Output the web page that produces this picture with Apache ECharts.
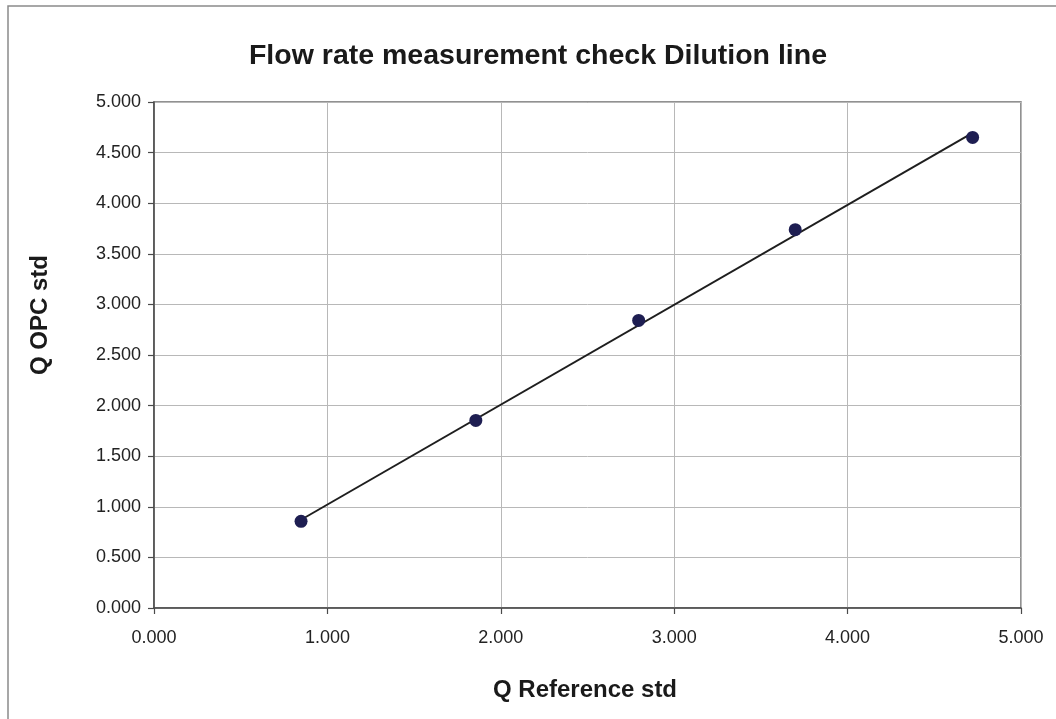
<!DOCTYPE html>
<html>
<head>
<meta charset="utf-8">
<script src="https://cdn.jsdelivr.net/npm/echarts@6/dist/echarts.min.js"></script>
<style>
  html, body { margin: 0; padding: 0; background: #ffffff; }
  #chart { width: 1056px; height: 719px; }
</style>
</head>
<body>
<div id="chart"></div>
<script>
// Measured flow rates: reference standard (x) vs OPC (y)
const qReference = [0.848, 1.856, 2.795, 3.698, 4.721];
const qOpc       = [0.856, 1.854, 2.842, 3.738, 4.650];

// Linear trendline end points
const trendX = [0.848, 4.721];
const trendY = [0.872, 4.695];

// Axis ranges and tick steps
const xRange = [0, 5];
const yRange = [0, 5];
const xStep = 1;
const yStep = 0.5;

const chartTitle = 'Flow rate measurement check Dilution line';
const xTitle = 'Q Reference std';
const yTitle = 'Q OPC std';

const points = qReference.map((x, i) => [x, qOpc[i]]);
const trend = trendX.map((x, i) => [x, trendY[i]]);

const font = 'Arial, "Liberation Sans", Helvetica, sans-serif';
const chart = echarts.init(document.getElementById('chart'), null, { renderer: 'canvas' });

chart.setOption({
  backgroundColor: '#ffffff',
  animation: false,
  title: {
    text: chartTitle,
    left: 533,
    textAlign: 'center',
    top: 37,
    textStyle: { fontFamily: font, fontSize: 28.5, fontWeight: 'bold', color: '#1a1a1a' }
  },
  grid: { left: 154, right: 35, top: 102, bottom: 111, containLabel: false,
          show: true, borderColor: '#6e6e6e', borderWidth: 1.5 },
  xAxis: {
    type: 'value',
    min: xRange[0], max: xRange[1], interval: xStep,
    axisLine: { show: true, onZero: false, lineStyle: { color: '#4a4a4a', width: 1.5 } },
    axisTick: { show: true, length: 6, lineStyle: { color: '#4a4a4a', width: 1.2 } },
    axisLabel: { margin: 21, fontFamily: font, fontSize: 18, color: '#222222',
                 formatter: v => v.toFixed(3) },
    splitLine: { show: true, lineStyle: { color: '#b8b8b8', width: 1 } }
  },
  yAxis: {
    type: 'value',
    min: yRange[0], max: yRange[1], interval: yStep,
    axisLine: { show: true, onZero: false, lineStyle: { color: '#4a4a4a', width: 1.5 } },
    axisTick: { show: true, length: 6, lineStyle: { color: '#4a4a4a', width: 1.2 } },
    axisLabel: { margin: 13, fontFamily: font, fontSize: 18, color: '#222222',
                 formatter: v => v.toFixed(3) },
    splitLine: { show: true, lineStyle: { color: '#b8b8b8', width: 1 } }
  },
  series: [
    {
      name: 'trend',
      type: 'line',
      data: trend,
      symbol: 'none',
      lineStyle: { color: '#1e1e1e', width: 2 },
      z: 2
    },
    {
      name: 'Q OPC std',
      type: 'scatter',
      data: points,
      symbol: 'circle',
      symbolSize: 13,
      itemStyle: { color: '#1e1e52', opacity: 1 },
      z: 3
    }
  ],
  graphic: [
    {
      type: 'rect',
      shape: { x: 8, y: 6, width: 1100, height: 800 },
      style: { fill: 'none', stroke: '#8a8a8a', lineWidth: 1.5 },
      silent: true, z: -1
    },
    {
      type: 'text',
      x: 585, y: 690,
      style: { text: xTitle, fontFamily: font, fontSize: 24, fontWeight: 'bold', fill: '#1a1a1a',
               x: 0, y: 0, textAlign: 'center', textVerticalAlign: 'middle' }
    },
    {
      type: 'text',
      x: 40, y: 315, rotation: Math.PI / 2,
      style: { text: yTitle, fontFamily: font, fontSize: 24, fontWeight: 'bold', fill: '#1a1a1a',
               x: 0, y: 0, textAlign: 'center', textVerticalAlign: 'middle' }
    }
  ]
});
</script>
</body>
</html>
